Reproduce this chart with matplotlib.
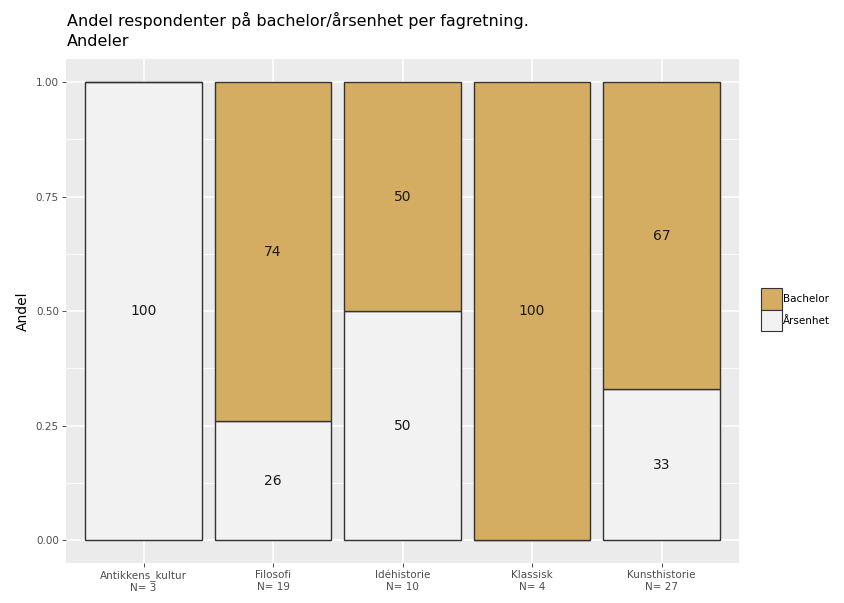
import numpy as np
import matplotlib.pyplot as plt
from matplotlib.patches import Patch

# data
fag = ['Antikkens_kultur', 'Filosofi', 'Idéhistorie', 'Klassisk', 'Kunsthistorie']
n_resp = [3, 19, 10, 4, 27]
aarsenhet = [1.00, 0.26, 0.50, 0.00, 0.33]
bachelor = [0.00, 0.74, 0.50, 1.00, 0.67]
lab_aarsenhet = [100, 26, 50, None, 33]
lab_bachelor = [None, 74, 50, 100, 67]

COL_BACH = '#D5AD62'
COL_AARS = '#F2F2F2'
EDGE = '#333333'

fig = plt.figure(figsize=(8.44, 6.03), dpi=100)
ax = fig.add_axes([0.078, 0.066, 0.798, 0.836])
ax.set_facecolor('#EBEBEB')

x = np.arange(1, len(fag) + 1)
ax.bar(x, aarsenhet, width=0.9, color=COL_AARS, edgecolor=EDGE, linewidth=1.0, zorder=3)
ax.bar(x, bachelor, width=0.9, bottom=aarsenhet, color=COL_BACH, edgecolor=EDGE, linewidth=1.0, zorder=3)

for i in range(len(fag)):
    if lab_aarsenhet[i] is not None:
        ax.text(x[i], aarsenhet[i] / 2, str(lab_aarsenhet[i]), ha='center', va='center',
                fontsize=10, color='#1A1A1A', zorder=4)
    if lab_bachelor[i] is not None:
        ax.text(x[i], aarsenhet[i] + bachelor[i] / 2, str(lab_bachelor[i]), ha='center', va='center',
                fontsize=10, color='#1A1A1A', zorder=4)

ax.set_xlim(0.4, len(fag) + 0.6)
ax.set_ylim(-0.05, 1.05)
ax.set_yticks([0, 0.25, 0.5, 0.75, 1.0])
ax.set_yticklabels(['0.00', '0.25', '0.50', '0.75', '1.00'])
ax.set_yticks([0.125, 0.375, 0.625, 0.875], minor=True)
ax.set_xticks(x)
ax.set_xticklabels([f + '\nN= ' + str(n) for f, n in zip(fag, n_resp)])

ax.grid(which='major', color='white', linewidth=1.1, zorder=0)
ax.grid(which='minor', axis='y', color='white', linewidth=0.55, zorder=0)
ax.set_axisbelow(True)
for s in ax.spines.values():
    s.set_visible(False)
ax.tick_params(which='major', length=3, width=0.6, color='#333333', labelsize=7.5, labelcolor='#4D4D4D', pad=2)
ax.tick_params(which='minor', length=0)
ax.set_ylabel('Andel', fontsize=10, color='black', labelpad=4)

fig.text(0.079, 0.918, 'Andel respondenter på bachelor/årsenhet per fagretning.\nAndeler',
         fontsize=11.5, ha='left', va='bottom', linespacing=1.45)

handles = [Patch(facecolor=COL_BACH, edgecolor=EDGE, linewidth=0.8, label='Bachelor'),
           Patch(facecolor=COL_AARS, edgecolor=EDGE, linewidth=0.8, label='Årsenhet')]
fig.legend(handles=handles, loc='center left', bbox_to_anchor=(0.902, 0.486), frameon=False,
           fontsize=7.5, handlelength=2.0, handleheight=2.8, handletextpad=0.1, labelspacing=0.0,
           borderaxespad=0, borderpad=0)

fig.savefig('out.png', dpi=100)
